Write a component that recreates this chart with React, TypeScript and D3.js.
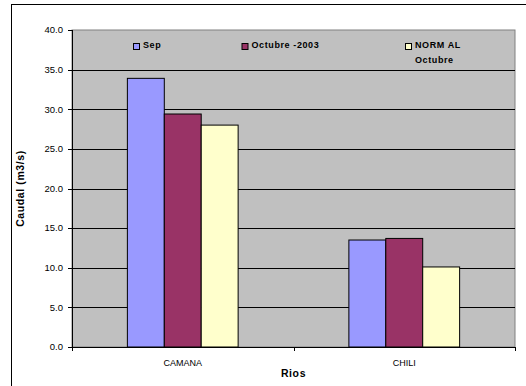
import React from "react";
import * as d3 from "d3";

const categories = ["CAMANA", "CHILI"];
const seriesNames = ["Sep", "Octubre -2003", "NORMAL Octubre"];
const sepValues = [33.9, 13.5];
const octValues = [29.4, 13.7];
const normalValues = [28.0, 10.1];
const yTicks = [0, 5, 10, 15, 20, 25, 30, 35, 40];
const colors = ["#9999FF", "#993366", "#FFFFCC"];

const W = 526;
const H = 386;
const plot = { left: 72, right: 515, top: 30, bottom: 347 };

export default function App() {
  const series = [sepValues, octValues, normalValues];
  const y = d3.scaleLinear().domain([0, 40]).range([plot.bottom, plot.top]);
  const x0 = d3.scaleBand<string>().domain(categories).range([plot.left, plot.right]).padding(0);
  const bw = x0.bandwidth();
  const x1 = d3
    .scaleBand<number>()
    .domain(d3.range(series.length))
    .range([bw * 0.25, bw * 0.75])
    .padding(0);

  const font = "Arial, 'Liberation Sans', sans-serif";
  const catTicks = [plot.left, ...categories.slice(1).map((c) => x0(c)!), plot.right];

  const legendItems = [
    { x: 133, label: ["Sep"] },
    { x: 241.5, label: ["Octubre -2003"] },
    { x: 405, label: ["NORM AL", "Octubre"] },
  ];

  return (
    <svg
      width={W}
      height={H}
      style={{ position: "absolute", left: 0, top: 0, background: "#fff" }}
      fontFamily={font}
    >
      {/* outer chart frame */}
      <rect x={11.5} y={4.5} width={530} height={400} fill="#fff" stroke="#000" strokeWidth={1} />

      {/* plot area */}
      <rect
        x={plot.left}
        y={plot.top}
        width={plot.right - plot.left}
        height={plot.bottom - plot.top}
        fill="#C0C0C0"
        stroke="#808080"
        strokeWidth={1}
      />

      {/* horizontal gridlines */}
      {yTicks.slice(1, -1).map((t) => (
        <line
          key={t}
          x1={plot.left}
          x2={plot.right}
          y1={Math.round(y(t)) + 0.5}
          y2={Math.round(y(t)) + 0.5}
          stroke="#000"
          strokeWidth={1}
        />
      ))}

      {/* bars */}
      {categories.map((c, ci) => (
        <g key={c}>
          {series.map((vals, si) => (
            <rect
              key={si}
              x={x0(c)! + x1(si)!}
              y={y(vals[ci])}
              width={x1.bandwidth()}
              height={plot.bottom - y(vals[ci])}
              fill={colors[si]}
              stroke="#000"
              strokeWidth={1}
            />
          ))}
        </g>
      ))}

      {/* y axis */}
      <line x1={plot.left + 0.5} x2={plot.left + 0.5} y1={plot.top} y2={plot.bottom} stroke="#000" />
      {yTicks.map((t) => (
        <g key={t}>
          <line
            x1={plot.left - 4}
            x2={plot.left}
            y1={Math.round(y(t)) + 0.5}
            y2={Math.round(y(t)) + 0.5}
            stroke="#000"
          />
          <text
            x={63}
            y={y(t)}
            dy="0.35em"
            textAnchor="end"
            fontSize={9.5}
            fill="#000"
          >
            {t.toFixed(1)}
          </text>
        </g>
      ))}

      {/* x axis */}
      <line x1={plot.left} x2={plot.right} y1={plot.bottom + 0.5} y2={plot.bottom + 0.5} stroke="#000" />
      {catTicks.map((tx, i) => (
        <line
          key={i}
          x1={Math.round(tx) + 0.5}
          x2={Math.round(tx) + 0.5}
          y1={plot.bottom}
          y2={plot.bottom + 4}
          stroke="#000"
        />
      ))}
      {categories.map((c) => (
        <text
          key={c}
          x={x0(c)! + bw / 2}
          y={366}
          textAnchor="middle"
          fontSize={9}
          fill="#000"
        >
          {c}
        </text>
      ))}

      {/* axis titles */}
      <text
        x={(plot.left + plot.right) / 2}
        y={377}
        textAnchor="middle"
        fontSize={10.5}
        fontWeight="bold"
        letterSpacing={0.6}
      >
        Rios
      </text>
      <text
        transform={`translate(24,${(plot.top + plot.bottom) / 2}) rotate(-90)`}
        textAnchor="middle"
        fontSize={10.5}
        fontWeight="bold"
        letterSpacing={0.6}
      >
        Caudal (m3/s)
      </text>

      {/* legend */}
      {legendItems.map((item, i) => (
        <g key={seriesNames[i]}>
          <rect x={item.x + 0.5} y={43.5} width={6} height={6} fill={colors[i]} stroke="#000" />
          {item.label.map((line, li) => (
            <text
              key={li}
              x={item.x + 10}
              y={48 + li * 15}
              fontSize={9}
              fontWeight="bold"
              letterSpacing={0.6}
            >
              {line}
            </text>
          ))}
        </g>
      ))}
    </svg>
  );
}
